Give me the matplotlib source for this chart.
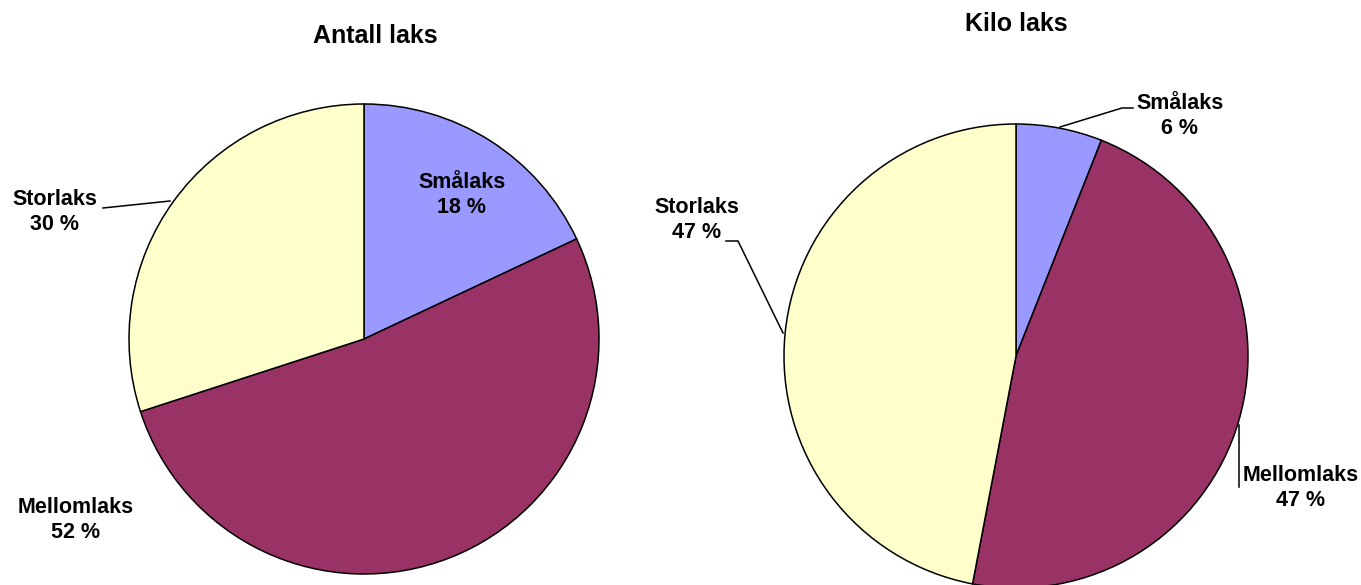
import matplotlib.pyplot as plt

# data
categories = ['Smålaks', 'Mellomlaks', 'Storlaks']
antall = [18, 52, 30]
kilo = [6, 47, 47]
colors = ['#9999FF', '#993366', '#FFFFCC']

W, H = 1361, 585
plt.rcParams['font.family'] = ['Liberation Sans', 'DejaVu Sans']
plt.rcParams['font.weight'] = 'bold'

fig = plt.figure(figsize=(W / 100, H / 100), dpi=100)
ax = fig.add_axes([0, 0, 1, 1])

wedge = dict(edgecolor='black', linewidth=1.1)

# left pie (pixel coords, y measured from bottom)
ax.pie(antall, colors=colors, startangle=90, counterclock=False,
       center=(364, H - 339), radius=235, wedgeprops=wedge, frame=True)
# right pie
ax.pie(kilo, colors=colors, startangle=90, counterclock=False,
       center=(1016, H - 356), radius=232, wedgeprops=wedge, frame=True)
ax.set_xlim(0, W)
ax.set_ylim(0, H)
ax.set_aspect('equal')
ax.axis('off')

def label(x, y, name, val):
    ax.text(x, H - y, f'{name}\n{val} %', ha='center', va='center',
            fontsize=15.5, fontweight='bold', linespacing=1.3)

def leader(pts):
    xs = [p[0] for p in pts]
    ys = [H - p[1] for p in pts]
    ax.plot(xs, ys, color='black', lw=1.1)

# left labels
label(462, 195, categories[0], antall[0])
label(76, 520, categories[1], antall[1])
label(55, 212, categories[2], antall[2])
leader([(103, 208), (170, 201)])

# right labels
label(1180, 116, categories[0], kilo[0])
leader([(1060, 127), (1122, 108), (1133, 108)])
label(1301, 488, categories[1], kilo[1])
leader([(1239, 425), (1239, 487)])
label(697, 220, categories[2], kilo[2])
leader([(726, 241), (738, 241), (783, 333)])

# titles
ax.text(375, H - 36, 'Antall laks', ha='center', va='center',
        fontsize=18, fontweight='bold')
ax.text(1016, H - 24, 'Kilo laks', ha='center', va='center',
        fontsize=18, fontweight='bold')

fig.savefig('out.png', dpi=100)
